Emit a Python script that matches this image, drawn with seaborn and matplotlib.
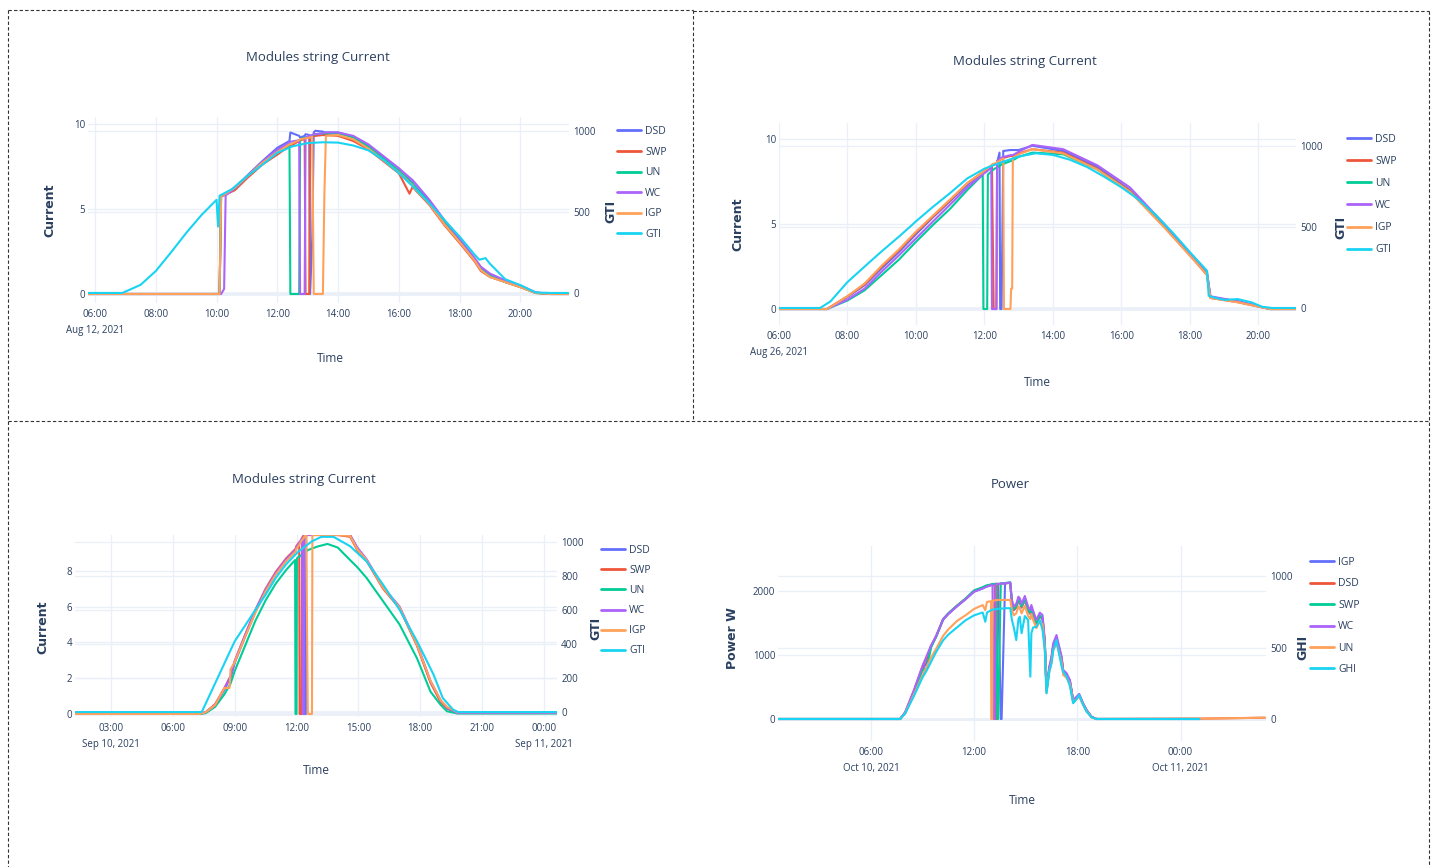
import numpy as np
import pandas as pd
import seaborn as sns
import matplotlib.pyplot as plt
from matplotlib.lines import Line2D
from matplotlib.transforms import blended_transform_factory

W, H = 1432, 867
nan = np.nan

# plotly default colours
BLUE, RED, GREEN, PURPLE, ORANGE, CYAN = "#636EFA", "#EF553B", "#00CC96", "#AB63FA", "#FFA15A", "#19D3F3"
GRID = "#EBF0F8"
TXT = "#2a3f5f"

# ---- Aug 12, 2021: string current (A), hours after midnight ----
t1 = [5.77, 10.1, 10.15, 10.25, 10.3, 10.6, 11.0, 11.5, 12.0, 12.4, 12.43, 12.72, 12.75, 12.9,
      12.93, 13.05, 13.08, 13.15, 13.2, 13.25, 13.5, 13.55, 13.6, 14.0, 14.5, 15.0, 15.5, 16.0,
      16.35, 16.45, 16.5, 17.0, 17.5, 18.0, 18.5, 18.7, 19.0, 19.5, 20.0, 20.5, 21.0, 21.6]
dsd1 = [0, 0, 5.8, 5.85, 5.9, 6.25, 6.95, 7.8, 8.6, 9.0, 9.5, 9.3, 9.2, 9.3, 9.4, 9.35, 0, 3.3,
        9.5, 9.6, 9.55, 9.5, 9.5, 9.5, 9.25, 8.7, 8.0, 7.25, 6.7, 6.55, 6.4, 5.45, 4.25, 3.15,
        2.05, 1.55, 1.1, 0.75, 0.45, 0.08, 0, 0]
swp1 = [0, 0, 5.75, 5.8, 5.85, 6.1, 6.8, 7.6, 8.2, 8.7, 8.7, 9.0, 9.05, 9.1, 0, 0, 9.2, 9.25,
        9.3, 9.3, 9.35, 9.35, 9.35, 9.3, 9.0, 8.5, 7.8, 7.1, 5.9, 6.3, 6.2, 5.25, 4.05, 3.0,
        1.9, 1.35, 1.0, 0.7, 0.4, 0.06, 0, 0]
un1 = [0, 0, 5.8, 5.85, 5.9, 6.2, 6.9, 7.7, 8.4, 8.85, 0, 0, 9.1, 9.2, 9.2, 9.25, 9.3, 9.35,
       9.35, 9.4, 9.45, 9.45, 9.45, 9.45, 9.2, 8.65, 7.95, 7.25, 6.65, 6.5, 6.35, 5.4, 4.2, 3.1,
       2.0, 1.45, 1.05, 0.7, 0.42, 0.06, 0, 0]
wc1 = [0, 0, 0, 0.3, 5.8, 6.2, 6.9, 7.75, 8.5, 8.9, 8.95, 9.05, 0, 0, 9.2, 9.3, 9.3, 9.35,
       9.4, 9.4, 9.45, 9.5, 9.5, 9.5, 9.3, 8.8, 8.1, 7.4, 6.85, 6.7, 6.6, 5.55, 4.35, 3.25,
       2.1, 1.6, 1.2, 0.8, 0.5, 0.1, 0, 0]
igp1 = [0, 0, 5.8, 5.85, 5.9, 6.25, 6.9, 7.7, 8.35, 8.8, 8.8, 9.05, 9.1, 9.15, 9.15, 9.2, 9.2,
        9.25, 0, 0, 0, 5.9, 9.3, 9.35, 9.1, 8.55, 7.85, 7.15, 6.55, 6.4, 6.25, 5.3, 4.1, 3.05,
        1.95, 1.4, 1.0, 0.7, 0.4, 0.06, 0, 0]
gti1_t = [5.77, 6.9, 7.5, 8.0, 8.5, 9.0, 9.5, 10.0, 10.05, 10.1, 10.5, 11.0, 11.5, 12.0, 12.5,
          13.0, 13.5, 14.0, 14.5, 15.0, 15.5, 16.0, 16.5, 17.0, 17.5, 18.0, 18.5, 18.65, 18.85,
          19.0, 19.5, 20.0, 20.5, 21.0, 21.6]
gti1 = [0, 0, 50, 135, 250, 370, 480, 575, 410, 600, 640, 720, 790, 865, 905, 925, 930, 928,
        910, 880, 820, 740, 650, 555, 450, 348, 235, 205, 215, 180, 85, 48, 3, 0, 0]

# ---- Aug 26, 2021 ----
t2 = [6.0, 7.4, 8.0, 8.5, 9.0, 9.5, 10.0, 10.5, 11.0, 11.5, 11.95, 11.97, 12.08, 12.1, 12.2,
      12.22, 12.27, 12.29, 12.35, 12.37, 12.44, 12.46, 12.5, 12.55, 12.57, 12.76, 12.78, 12.81,
      12.83, 13.0, 13.4, 14.3, 15.3, 16.25, 17.25, 18.2, 18.5, 18.6, 19.4, 20.05, 20.35, 21.1]
dsd2 = [0, 0, 0.7, 1.4, 2.4, 3.35, 4.4, 5.4, 6.35, 7.3, 8.0, 8.0, 8.2, 8.2, 8.4, 8.45, 8.5, 8.5,
        8.55, 8.6, 9.2, 0, 0, 9.3, 9.3, 9.35, 9.35, 9.35, 9.35, 9.35, 9.6, 9.3, 8.35, 7.0, 4.9,
        2.75, 2.05, 0.7, 0.45, 0.14, 0, 0]
swp2 = [0, 0, 0.75, 1.45, 2.5, 3.45, 4.5, 5.45, 6.4, 7.4, 8.05, 8.1, 8.2, 8.25, 8.35, 8.4, 0, 0,
        0, 8.7, 8.75, 8.8, 8.85, 8.9, 8.9, 9.0, 9.0, 9.0, 9.0, 9.15, 9.4, 9.2, 8.25, 6.95, 4.85,
        2.7, 2.0, 0.65, 0.4, 0.12, 0, 0]
un2 = [0, 0, 0.5, 1.1, 2.0, 2.9, 3.95, 4.95, 5.9, 7.0, 7.9, 0, 0, 7.9, 8.1, 8.15, 8.2, 8.25,
       8.3, 8.35, 8.4, 8.45, 8.5, 8.55, 8.55, 8.7, 8.7, 8.75, 8.75, 8.95, 9.2, 9.1, 8.2, 6.9,
       4.9, 2.8, 2.05, 0.7, 0.45, 0.14, 0, 0]
wc2 = [0, 0, 0.55, 1.2, 2.2, 3.15, 4.15, 5.15, 6.15, 7.15, 7.9, 7.95, 8.1, 8.15, 8.3, 0, 0, 0,
       0, 8.7, 8.8, 8.85, 8.9, 8.95, 8.95, 9.05, 9.05, 9.05, 9.05, 9.25, 9.65, 9.4, 8.45, 7.15,
       5.0, 2.85, 2.2, 0.75, 0.45, 0.14, 0, 0]
igp2 = [0, 0, 0.75, 1.5, 2.55, 3.5, 4.55, 5.5, 6.45, 7.4, 8.05, 8.1, 8.25, 8.3, 8.45, 8.5, 8.55,
        8.55, 8.6, 8.65, 8.7, 8.75, 8.8, 8.85, 0, 0, 1.2, 1.2, 8.9, 9.1, 9.4, 9.15, 8.2, 6.9,
        4.8, 2.7, 2.0, 0.65, 0.4, 0.12, 0, 0]
gti2_t = [6.0, 7.2, 7.5, 8.0, 8.66, 9.0, 9.5, 9.83, 10.0, 10.5, 11.0, 11.5, 12.0, 12.5, 13.0,
          13.5, 14.0, 14.5, 15.0, 15.5, 16.0, 16.5, 17.0, 17.5, 18.0, 18.5, 18.55, 18.7, 19.0,
          19.4, 19.8, 20.1, 20.4, 21.1]
gti2 = [0, 0, 40, 160, 286, 350, 440, 502, 535, 625, 710, 800, 860, 900, 935, 955, 945, 915,
        870, 810, 745, 670, 575, 465, 345, 230, 75, 65, 50, 55, 35, 8, 0, 0]

# ---- Sep 10, 2021 ----
t3 = [1.25, 7.3, 7.6, 8.05, 8.5, 8.75, 8.8, 9.0, 9.5, 10.0, 10.5, 11.0, 11.5, 11.93, 11.95,
      12.0, 12.02, 12.13, 12.15, 12.25, 12.27, 12.3, 12.35, 12.37, 12.4, 12.45, 12.47, 12.55,
      12.75, 12.77, 13.0, 13.5, 14.0, 14.6, 14.95, 15.4, 16.2, 17.0, 17.85, 18.5, 19.0, 19.3,
      19.8, 24.64]
dsd3 = [0, 0, 0.1, 0.5, 1.35, 1.95, 2.05, 2.85, 4.3, 5.7, 6.9, 7.85, 8.6, 9.1, 9.12, 9.3, 9.32,
        9.5, 9.55, 9.75, 9.77, 9.8, 9.9, 9.92, 0, 0, 10, 10, 10, 10, 10, 10, 10, 10, 9.25, 8.6,
        7.05, 5.95, 3.85, 1.8, 0.7, 0.33, 0.05, 0.05]
swp3 = [0, 0, 0.1, 0.55, 1.45, 2.0, 2.1, 2.95, 4.4, 5.8, 7.0, 7.95, 8.7, 9.2, 9.22, 9.4, 9.42,
        9.6, 0, 0, 9.85, 9.9, 10, 10, 10, 10, 10, 10, 10, 10, 10, 10, 10, 9.9, 9.15, 8.55, 7.0,
        5.9, 3.8, 1.75, 0.65, 0.3, 0.05, 0.05]
un3 = [0, 0, 0.05, 0.4, 1.1, 1.6, 1.7, 2.4, 3.8, 5.2, 6.35, 7.3, 8.05, 8.6, 0, 0, 8.7, 8.8, 8.8,
       8.9, 8.9, 8.95, 9.0, 9.0, 9.05, 9.1, 9.1, 9.15, 9.25, 9.25, 9.35, 9.5, 9.3, 8.6, 8.2, 7.6,
       6.3, 5.0, 3.1, 1.25, 0.5, 0.15, 0.03, 0.03]
wc3 = [0, 0, 0.1, 0.5, 1.4, 2.0, 2.1, 2.95, 4.4, 5.8, 6.95, 7.9, 8.65, 9.15, 9.17, 9.35, 9.37,
       9.55, 9.6, 9.8, 9.82, 0, 0, 9.95, 10, 10, 10, 10, 10, 10, 10, 10, 10, 10, 9.3, 8.65, 7.1,
       6.0, 3.9, 1.85, 0.75, 0.35, 0.06, 0.06]
igp3 = [0, 0, 0.1, 0.5, 1.45, 1.45, 2.5, 2.9, 4.3, 5.65, 6.85, 7.8, 8.55, 9.05, 9.07, 9.25,
        9.27, 9.45, 9.5, 9.7, 9.72, 9.75, 9.85, 9.87, 9.95, 10, 10, 0, 0, 10, 10, 10, 10, 9.95,
        9.2, 8.6, 7.05, 5.95, 3.85, 1.85, 0.75, 0.4, 0.1, 0.1]
gti3_t = [1.25, 7.4, 8.0, 9.0, 10.0, 10.5, 11.0, 11.5, 12.1, 12.75, 13.2, 13.8, 14.6, 15.4, 16.2,
          17.0, 17.85, 18.65, 19.1, 19.6, 19.85, 24.64]
gti3 = [0, 0, 156, 416, 600, 690, 790, 870, 945, 1004, 1030, 1030, 975, 886, 749, 602, 416, 220,
        82, 14, 0, 0]

# ---- Oct 10, 2021: power (W) ----
t4 = [0.6, 7.7, 8.0, 8.5, 9.0, 9.25, 9.5, 9.8, 10.2, 10.5, 11.0, 11.5, 12.0, 12.5, 12.65, 12.75,
      12.98, 13.0, 13.05, 13.07, 13.15, 13.2, 13.25, 13.3, 13.35, 13.4, 13.55, 13.6, 13.8, 14.1,
      14.2, 14.31, 14.45, 14.58, 14.66, 14.76, 14.95, 15.14, 15.27, 15.33, 15.43, 15.62, 15.82,
      15.98, 16.11, 16.21, 16.37, 16.5, 16.6, 16.79, 16.95, 17.09, 17.18, 17.38, 17.57, 17.76,
      17.96, 18.11, 18.34, 18.54, 18.83, 19.12, 25.1, 28.9]
igp4 = [0, 0, 100, 420, 780, 880, 1130, 1290, 1550, 1640, 1760, 1870, 1990, 2040, 2060, 2070,
        2090, 2095, 2100, 2100, 2100, 2100, 2105, 2110, 2110, 2110, 0, 0, 2120, 2130,
        1800, 1700, 1740, 1850, 1820, 1740, 1860, 1690, 1640, 1720, 1630, 1490, 1600, 1560, 1180,
        430, 780, 930, 1130, 1250, 1080, 930, 730, 680, 580, 280, 330, 370, 230, 130, 30, 0, 0, nan]
dsd4 = [0, 0, 105, 440, 820, 960, 1140, 1300, 1560, 1650, 1770, 1880, 2000, 2050, 2070, 2080,
        2095, 2100, 2100, 2105, 2105, 2105, 0, 0, 2110, 2110, 2115, 2115, 2120, 2125,
        1810, 1710, 1750, 1860, 1830, 1750, 1870, 1700, 1650, 1730, 1640, 1500, 1610, 1570, 1190,
        440, 790, 940, 1140, 1260, 1090, 940, 740, 690, 590, 285, 335, 375, 235, 135, 32, 0, 5, 20]
swp4 = [0, 0, 95, 410, 760, 800, 1120, 1290, 1560, 1650, 1770, 1880, 2010, 2060, 2080, 2090,
        2100, 2105, 2110, 2110, 2110, 2110, 2115, 2115, 0, 0, 2120, 2120, 2125, 2135,
        1820, 1720, 1760, 1870, 1840, 1760, 1880, 1710, 1660, 1740, 1650, 1510, 1620, 1580, 1200,
        440, 790, 940, 1150, 1270, 1100, 940, 740, 690, 590, 285, 335, 375, 235, 135, 32, 0, 0, nan]
wc4 = [0, 0, 110, 450, 830, 990, 1150, 1300, 1560, 1640, 1760, 1870, 1990, 2040, 2060, 2070,
       2090, 2095, 2100, 2100, 0, 0, 2105, 2110, 2110, 2110, 2115, 2115, 2120, 2130,
       1860, 1755, 1800, 1911, 1885, 1800, 1922, 1755, 1700, 1781, 1693, 1547, 1661, 1625, 1234,
       453, 818, 974, 1182, 1312, 1130, 974, 766, 714, 609, 297, 349, 391, 245, 141, 36, 0, 0, nan]
un4 = [0, 0, 90, 380, 680, 820, 960, 1100, 1300, 1400, 1530, 1620, 1720, 1780, 1700, 1830, 1840,
       0, 0, 1850, 1850, 1855, 1855, 1855, 1860, 1860, 1860, 1860, 1860, 1860,
       1700, 1620, 1650, 1760, 1730, 1650, 1770, 1610, 1560, 1640, 1550, 1420, 1520, 1480, 1120,
       410, 740, 880, 1070, 1180, 1020, 880, 690, 640, 550, 260, 310, 350, 215, 120, 25, 0, 5, 20]
ghi4 = [0, 0, 40, 160, 290, 340, 400, 470, 550, 590, 640, 690, 725, 745, 680, 745, 760, 762, 764,
        765, 766, 767, 768, 769, 770, 770, 772, 772, 775, 775,
        692, 640, 552, 700, 715, 600, 720, 692, 296, 600, 640, 645, 692, 620, 483,
        179, 330, 389, 480, 552, 450, 366, 330, 296, 230, 110, 140, 168, 100, 51, 12, 0, 0, nan]

sns.set_style("white")
plt.rcParams["font.family"] = ["Open Sans", "DejaVu Sans"]

fig = plt.figure(figsize=(W / 100, H / 100), dpi=100)


def px(x, y):
    return x / W, 1 - y / H


def panel(box, day, lines, right, xr, lims, lims2, yt, yt2, xt, xlab):
    x0, y0, x1, y1 = box
    ax = fig.add_axes([x0 / W, 1 - y1 / H, (x1 - x0) / W, (y1 - y0) / H])
    ax2 = ax.twinx()
    base = pd.Timestamp(day)

    def when(h):
        return base + pd.to_timedelta(h, unit="h")

    for t, y, c in lines:
        sns.lineplot(x=when(t), y=y, ax=ax, color=c, linewidth=1.5,
                     estimator=None, sort=False, legend=False)
    t, y, c = right
    sns.lineplot(x=when(t), y=y, ax=ax2, color=c, linewidth=1.5,
                 estimator=None, sort=False, legend=False)

    # grid of both y axes drawn under all traces, like plotly
    ax.set_axisbelow(True)
    ax.grid(True, color=GRID, lw=1)
    ax2.grid(False)
    ax.axhline(0, color=GRID, lw=2, zorder=0.6)
    tr = blended_transform_factory(ax.transAxes, ax2.transData)
    for v in yt2:
        ax.plot([0, 1], [v, v], transform=tr, color=GRID, lw=2 if v == 0 else 1, zorder=0.6)

    ax.set_xlim(when(xr[0]), when(xr[1]))
    ax.set_ylim(*lims)
    ax2.set_ylim(*lims2)
    ax.set_yticks(yt)
    ax2.set_yticks(yt2)
    ax.set_xticks(when(xt))
    ax.set_xticklabels(xlab)
    for lab in ax.get_xticklabels():
        lab.set_linespacing(1.7)
    for a in (ax, ax2):
        a.set_xlabel("")
        a.set_ylabel("")
        for s in a.spines.values():
            s.set_visible(False)
        a.tick_params(length=0, labelsize=7, labelcolor=TXT)
    ax.tick_params(axis="x", pad=4)
    ax.tick_params(axis="y", pad=2)
    ax2.tick_params(axis="y", pad=3)
    return ax


def legend(names, colors, x, y, spacing):
    handles = [Line2D([], [], color=c, lw=2) for c in colors]
    fig.legend(handles, names, loc="upper left", bbox_to_anchor=px(x, y), frameon=False,
               fontsize=7.5, labelcolor=TXT, handlelength=2.3, handletextpad=0.4,
               labelspacing=spacing, borderpad=0, borderaxespad=0)


def labels(title, tpos, ylab, ypos, rlab, rpos, xpos):
    fig.text(*px(*tpos), title, ha="center", va="center", fontsize=9.5, color=TXT)
    fig.text(*px(*ypos), ylab, rotation=90, ha="center", va="center", fontsize=9,
             fontweight="bold", family="DejaVu Sans", color=TXT)
    fig.text(*px(*rpos), rlab, rotation=90, ha="center", va="center", fontsize=9,
             fontweight="bold", family="DejaVu Sans", color=TXT)
    fig.text(*px(*xpos), "Time", ha="center", va="center", fontsize=8.5, color=TXT)


names = ["DSD", "SWP", "UN", "WC", "IGP", "GTI"]
cols = [BLUE, RED, GREEN, PURPLE, ORANGE, CYAN]
hrs2 = [6, 8, 10, 12, 14, 16, 18, 20]

# top left
panel((88, 117, 569, 303), "2021-08-12",
      [(t1, dsd1, BLUE), (t1, swp1, RED), (t1, un1, GREEN), (t1, wc1, PURPLE), (t1, igp1, ORANGE)],
      (gti1_t, gti1, CYAN), (5.77, 21.6), (-0.53, 10.41), (-62, 1086), [0, 5, 10], [0, 500, 1000],
      hrs2, ["06:00\nAug 12, 2021", "08:00", "10:00", "12:00", "14:00", "16:00", "18:00", "20:00"])
labels("Modules string Current", (318, 57), "Current", (50, 210), "GTI", (611, 211), (330, 359))
legend(names, cols, 617, 126, 0.92)

# top right
panel((779, 123, 1296, 325), "2021-08-26",
      [(t2, dsd2, BLUE), (t2, swp2, RED), (t2, un2, GREEN), (t2, wc2, PURPLE), (t2, igp2, ORANGE)],
      (gti2_t, gti2, CYAN), (6.0, 21.1), (-0.94, 10.94), (-105, 1142), [0, 5, 10], [0, 500, 1000],
      hrs2, ["06:00\nAug 26, 2021", "08:00", "10:00", "12:00", "14:00", "16:00", "18:00", "20:00"])
labels("Modules string Current", (1025, 61), "Current", (738, 224), "GTI", (1341, 227), (1037, 383))
legend(names, cols, 1347, 134, 1.06)

# bottom left
panel((75, 535, 557, 717), "2021-09-10",
      [(t3, dsd3, BLUE), (t3, swp3, RED), (t3, un3, GREEN), (t3, wc3, PURPLE), (t3, igp3, ORANGE)],
      (gti3_t, gti3, CYAN), (1.25, 24.64), (-0.17, 10.0), (-29, 1041), [0, 2, 4, 6, 8],
      [0, 200, 400, 600, 800, 1000], [3, 6, 9, 12, 15, 18, 21, 24],
      ["03:00\nSep 10, 2021", "06:00", "09:00", "12:00", "15:00", "18:00", "21:00", "00:00\nSep 11, 2021"])
labels("Modules string Current", (304, 479), "Current", (43, 627), "GTI", (596, 628), (316, 771))
legend(names, cols, 601, 545, 0.87)

# bottom right
panel((778, 546, 1266, 741), "2021-10-10",
      [(t4, igp4, BLUE), (t4, dsd4, RED), (t4, swp4, GREEN), (t4, wc4, PURPLE), (t4, un4, ORANGE)],
      (t4, ghi4, CYAN), (0.6, 28.97), (-344, 2703), (-154, 1210), [0, 1000, 2000], [0, 500, 1000],
      [6, 12, 18, 24], ["06:00\nOct 10, 2021", "12:00", "18:00", "00:00\nOct 11, 2021"])
labels("Power", (1010, 485), "Power W", (732, 638), "GHI", (1303, 647), (1022, 800))
legend(["IGP", "DSD", "SWP", "WC", "UN", "GHI"], cols, 1310, 557, 1.0)

# dashed frames around the four screenshots
for (xa, ya), (xb, yb) in [((8, 10), (693, 10)), ((693, 11), (1429, 11)), ((8, 10), (8, 867)),
                           ((693, 10), (693, 421)), ((1429, 11), (1429, 867)), ((8, 421), (1429, 421))]:
    fig.add_artist(Line2D([xa / W, xb / W], [1 - ya / H, 1 - yb / H], transform=fig.transFigure,
                          color="#333333", lw=0.8, ls=(0, (3, 2))))

fig.savefig("out.png", dpi=100, facecolor="white")
